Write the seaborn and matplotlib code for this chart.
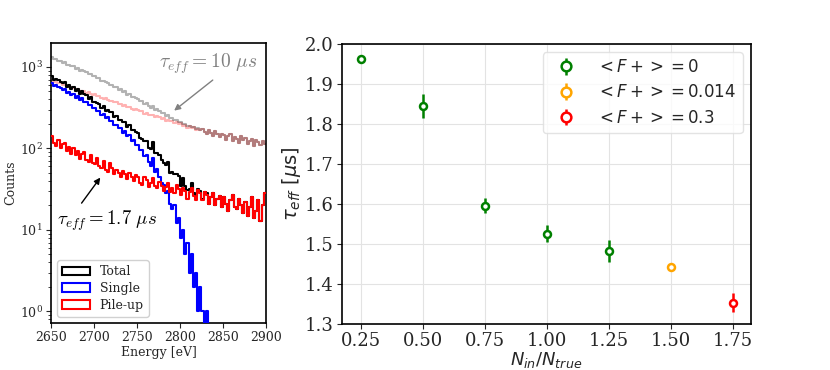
import numpy as np
import pandas as pd
import matplotlib
matplotlib.use("Agg")
import matplotlib.pyplot as plt
from matplotlib.patches import Patch
import seaborn as sns

# ---------------- data: left panel (counts per 2.5 eV bin, 2650-2900 eV) ----------------
E_START = 2650.0
E_STOP = 2900.0
BIN_WIDTH = 2.5

single = [640, 585, 600, 560, 548, 520, 530, 480, 492, 455,
          462, 418, 440, 392, 414, 370, 376, 340, 345, 310,
          312, 284, 290, 258, 262, 236, 240, 214, 220, 196,
          196, 176, 180, 156, 162, 140, 146, 124, 128, 110,
          110, 95, 96, 80, 82, 68, 60, 76, 52, 56,
          44, 38, 36, 28, 30, 21, 18, 20, 12, 14,
          8, 10, 5, 7, 3, 5, 2, 3, 1, 2,
          1, 0, 1, 0, 0, 0, 0, 0, 0, 0,
          0, 0, 0, 0, 0, 0, 0, 0, 0, 0,
          0, 0, 0, 0, 0, 0, 0, 0, 0, 0]

pileup = [140, 115, 108, 126, 100, 112, 117, 94, 103, 86,
          101, 84, 93, 74, 86, 90, 72, 68, 84, 66,
          64, 76, 60, 58, 70, 54, 52, 66, 57, 48,
          55, 50, 45, 53, 48, 42, 50, 45, 40, 47,
          44, 38, 36, 44, 41, 34, 38, 43, 35, 33,
          39, 35, 30, 34, 38, 29, 33, 28, 36, 32,
          27, 33, 30, 24, 29, 33, 26, 23, 31, 28,
          23, 29, 27, 21, 25, 28, 20, 24, 26, 19,
          25, 21, 17, 23, 27, 19, 18, 24, 20, 16,
          22, 15, 19, 25, 14, 17, 23, 13, 20, 28]

pileup_10us = [690, 652, 655, 628, 630, 600, 605, 585, 566, 572,
               555, 532, 540, 510, 506, 512, 480, 490, 468, 458,
               462, 438, 440, 420, 405, 414, 398, 380, 386, 366,
               370, 352, 350, 334, 338, 318, 322, 306, 300, 303,
               296, 284, 288, 268, 274, 260, 254, 260, 242, 248,
               246, 232, 236, 220, 225, 214, 220, 203, 210, 199,
               205, 190, 194, 180, 188, 176, 181, 170, 175, 166,
               172, 158, 150, 168, 155, 140, 162, 151, 137, 149,
               146, 128, 140, 150, 122, 137, 131, 118, 140, 127,
               133, 112, 124, 130, 108, 126, 119, 111, 125, 114]

# totals are single + pile-up
total = [s + p for s, p in zip(single, pileup)]
total_10us = [s + p for s, p in zip(single, pileup_10us)]

# ---------------- data: right panel ----------------
ratio = [0.25, 0.50, 0.75, 1.00, 1.25, 1.50, 1.75]
tau_eff = [1.962, 1.845, 1.596, 1.526, 1.482, 1.442, 1.354]
tau_err = [0.005, 0.030, 0.018, 0.022, 0.027, 0.010, 0.024]
fplus = ["0", "0", "0", "0", "0", "0.014", "0.3"]
fplus_levels = ["0", "0.014", "0.3"]
fplus_colors = {"0": "green", "0.014": "orange", "0.3": "red"}

# ---------------- style ----------------
sns.set_theme(style="ticks")
plt.rcParams["font.family"] = ["DejaVu Serif"]
plt.rcParams["mathtext.fontset"] = "dejavusans"
plt.rcParams["axes.edgecolor"] = "black"
plt.rcParams["axes.linewidth"] = 1.2

fig = plt.figure(figsize=(8.3, 3.7), dpi=100)
axL = fig.add_axes([0.0614, 0.127, 0.259, 0.757])
axR = fig.add_axes([0.412, 0.124, 0.493, 0.757])

centers = E_START + BIN_WIDTH * (np.arange(len(single)) + 0.5)


def step_hist(vals, color, alpha, z):
    df = pd.DataFrame({"E": centers, "w": np.asarray(vals, dtype=float)})
    sns.histplot(data=df, x="E", weights="w", binwidth=BIN_WIDTH,
                 binrange=(E_START, E_STOP), element="step",
                 fill=False, color=color, alpha=alpha, linewidth=1.5,
                 zorder=z, ax=axL)


step_hist(pileup_10us, "red", 0.3, 1)
step_hist(total_10us, "black", 0.3, 2)
step_hist(total, "black", 1.0, 3)
step_hist(single, "blue", 1.0, 4)
step_hist(pileup, "red", 1.0, 5)

axL.set_yscale("log")
axL.set_xlim(2650, 2900)
axL.set_ylim(0.72, 1970)
axL.set_xticks([2650, 2700, 2750, 2800, 2850, 2900])
axL.tick_params(axis="both", which="major", labelsize=9, length=3.5, width=0.8,
                pad=2.5)
axL.tick_params(axis="y", which="minor", length=2, width=0.6)
axL.set_xlabel("Energy [eV]", fontsize=9, labelpad=1)
axL.set_ylabel("Counts", fontsize=9, labelpad=2)

handles = [Patch(facecolor="none", edgecolor=c, linewidth=1.5, label=l)
           for c, l in [("black", "Total"), ("blue", "Single"), ("red", "Pile-up")]]
legL = axL.legend(handles=handles, loc="lower left", fontsize=9,
                  frameon=True, fancybox=True, framealpha=0.9,
                  handlelength=2.2, borderpad=0.4, labelspacing=0.3)
legL.get_frame().set_edgecolor("#cccccc")

axL.text(2832.6, 1100, r"$\tau_{eff} = 10\ \mu s$", color="gray",
         fontsize=14, ha="center", va="center", math_fontfamily="cm")
axL.annotate("", xy=(2790.7, 277), xytext=(2840.7, 724),
             arrowprops=dict(arrowstyle="-|>", color="gray", lw=1,
                             mutation_scale=9))
axL.text(2715.7, 13.1, r"$\tau_{eff} = 1.7\ \mu s$", color="black",
         fontsize=13.5, ha="center", va="center", math_fontfamily="cm")
axL.annotate("", xy=(2709.3, 46.7), xytext=(2683.7, 20),
             arrowprops=dict(arrowstyle="-|>", color="black", lw=1,
                             mutation_scale=9))

# ---------------- right panel ----------------
for lev in fplus_levels:
    xs = [r for r, f in zip(ratio, fplus) if f == lev]
    ys = [t for t, f in zip(tau_eff, fplus) if f == lev]
    es = [e for e, f in zip(tau_err, fplus) if f == lev]
    c = fplus_colors[lev]
    axR.errorbar(xs, ys, yerr=es, fmt="o", color=c, mfc="white", mec=c,
                 mew=1.8, ms=5, elinewidth=1.8, capsize=0,
                 label=r"$<F+> = %s$" % lev, zorder=3)

axR.set_xlim(0.175, 1.825)
axR.set_ylim(1.3, 2.0)
axR.set_xticks(ratio)
axR.set_xticklabels(["%.2f" % r for r in ratio])
axR.set_yticks([1.3, 1.4, 1.5, 1.6, 1.7, 1.8, 1.9, 2.0])
axR.grid(True, color="#e3e3e3", linewidth=0.8, zorder=0)
axR.set_axisbelow(True)
axR.tick_params(axis="both", which="both", length=3.5, width=0.8,
                labelsize=13, pad=2.5)
axR.set_xlabel(r"$N_{in}/N_{true}$", fontsize=13, labelpad=0)
axR.set_ylabel(r"$\tau_{eff}$ [$\mu$s]", fontsize=14, family="DejaVu Sans",
               labelpad=1)
legR = axR.legend(loc="upper right", fontsize=12, frameon=True,
                  fancybox=True, framealpha=0.8, markerscale=1.4)
legR.get_frame().set_edgecolor("#dddddd")

fig.savefig("out.png", dpi=100)
